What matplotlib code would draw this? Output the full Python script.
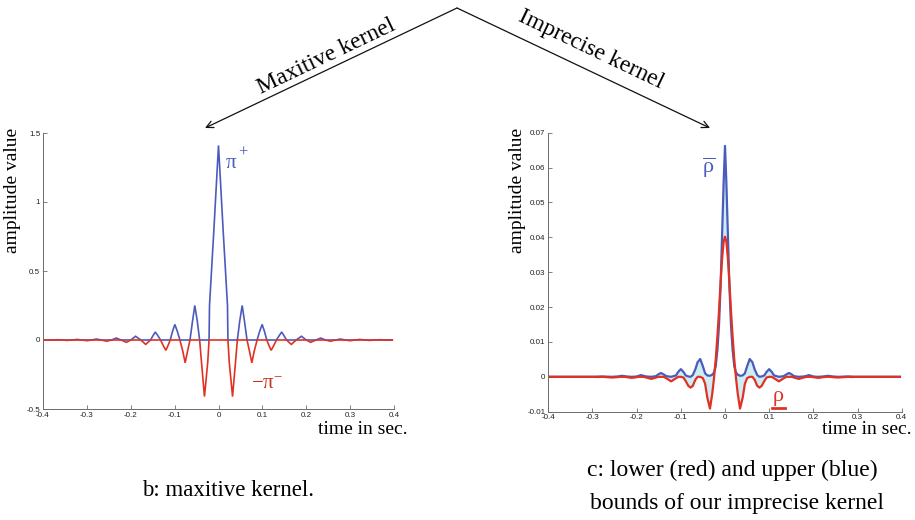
import numpy as np
import matplotlib
matplotlib.use("Agg")
import matplotlib.pyplot as plt
from matplotlib.patches import FancyArrowPatch
from matplotlib.lines import Line2D

plt.rcParams['mathtext.fontset'] = 'custom'
plt.rcParams['mathtext.rm'] = 'Liberation Serif'
plt.rcParams['mathtext.it'] = 'Liberation Serif'
plt.rcParams['mathtext.default'] = 'rm'

SERIF = 'Liberation Serif'
SANS = 'Liberation Sans'

BLUE = '#4a5bbd'
RED = '#e03222'
LABEL_RED = '#c8321e'
FILL = '#cdeef5'
AXIS = '#6b6b6b'

# ---- (b) maxitive kernel: signed kernel samples, split into pi+ / -pi- ----
t_max = [-0.396, -0.389, -0.378, -0.367, -0.356, -0.345, -0.334, -0.322, -0.311, -0.300,
         -0.289, -0.278, -0.267, -0.255, -0.244, -0.233, -0.222, -0.210, -0.200, -0.189,
         -0.177, -0.166, -0.155, -0.1495, -0.144, -0.138, -0.132, -0.126, -0.120, -0.115,
         -0.110, -0.105, -0.0995, -0.0935, -0.088, -0.0815, -0.076, -0.0705, -0.065, -0.0595,
         -0.054, -0.0485, -0.043, -0.0385, -0.032, -0.0245, -0.0215, -0.0205, -0.0105, 0.0,
         0.0105, 0.0205, 0.0215, 0.0245, 0.032, 0.0385, 0.043, 0.0485, 0.054, 0.0595,
         0.065, 0.0705, 0.076, 0.0815, 0.088, 0.0935, 0.0995, 0.105, 0.110, 0.115,
         0.120, 0.126, 0.132, 0.138, 0.144, 0.1495, 0.155, 0.166, 0.177, 0.189,
         0.200, 0.210, 0.222, 0.233, 0.244, 0.255, 0.267, 0.278, 0.289, 0.300,
         0.311, 0.322, 0.334, 0.345, 0.356, 0.367, 0.378, 0.389, 0.396]
k_max = [0.0, -0.0015, 0.0, 0.002, 0.0, -0.003, 0.0, 0.004, 0.0, -0.005,
         0.0, 0.007, 0.0, -0.009, 0.0, 0.014, 0.0, -0.017, 0.0, 0.027,
         0.0, -0.032, 0.0, 0.030, 0.058, 0.030, 0.0, -0.040, -0.075, -0.040,
         0.0, 0.060, 0.113, 0.060, 0.0, -0.080, -0.165, -0.080, 0.0, 0.130,
         0.250, 0.140, 0.0, -0.170, -0.410, -0.160, 0.0, 0.250, 0.800, 1.410,
         0.800, 0.250, 0.0, -0.160, -0.410, -0.170, 0.0, 0.140, 0.250, 0.130,
         0.0, -0.080, -0.165, -0.080, 0.0, 0.060, 0.113, 0.060, 0.0, -0.040,
         -0.075, -0.040, 0.0, 0.030, 0.058, 0.030, 0.0, -0.032, 0.0, 0.027,
         0.0, -0.017, 0.0, 0.014, 0.0, -0.009, 0.0, 0.007, 0.0, -0.005,
         0.0, 0.004, 0.0, -0.003, 0.0, 0.002, 0.0, -0.0015, 0.0]

# ---- (c) imprecise kernel: upper and lower bounds ----
t_imp = [-0.396, -0.300, -0.289, -0.278, -0.267, -0.256, -0.244, -0.238, -0.233, -0.228,
         -0.222, -0.211, -0.200, -0.195, -0.190, -0.185, -0.178, -0.167, -0.156, -0.151,
         -0.145, -0.139, -0.133, -0.122, -0.111, -0.106, -0.100, -0.094, -0.089, -0.083,
         -0.078, -0.073, -0.067, -0.062, -0.056, -0.050, -0.045, -0.040, -0.034, -0.029,
         -0.025, -0.021, -0.017, -0.0135, -0.010, -0.0065, -0.003, 0.0,
         0.003, 0.0065, 0.010, 0.0135, 0.017, 0.021, 0.025, 0.029, 0.034, 0.040,
         0.045, 0.050, 0.056, 0.062, 0.067, 0.073, 0.078, 0.083, 0.089, 0.094,
         0.100, 0.106, 0.111, 0.122, 0.133, 0.139, 0.145, 0.151, 0.156, 0.167,
         0.178, 0.185, 0.190, 0.195, 0.200, 0.211, 0.222, 0.228, 0.233, 0.238,
         0.244, 0.256, 0.267, 0.278, 0.289, 0.300, 0.396]
upper = [0.0, 0.0, 0.00005, 0.0001, 0.00005, 0.0, 0.0001, 0.0002, 0.0003, 0.0002,
         0.0001, 0.0, 0.0001, 0.0003, 0.0005, 0.0003, 0.0001, 0.0, 0.0002, 0.0007,
         0.0011, 0.0007, 0.0002, 0.0, 0.0004, 0.0014, 0.0022, 0.0014, 0.0004, 0.0001,
         0.0, 0.0005, 0.0022, 0.0042, 0.0051, 0.0030, 0.0010, 0.0004, 0.0003, 0.0006,
         0.0012, 0.0030, 0.0080, 0.0150, 0.0260, 0.0410, 0.0560, 0.0662,
         0.0560, 0.0410, 0.0260, 0.0150, 0.0080, 0.0030, 0.0012, 0.0006, 0.0003, 0.0004,
         0.0010, 0.0030, 0.0051, 0.0042, 0.0022, 0.0005, 0.0, 0.0001, 0.0004, 0.0014,
         0.0022, 0.0014, 0.0004, 0.0, 0.0002, 0.0007, 0.0011, 0.0007, 0.0002, 0.0,
         0.0001, 0.0003, 0.0005, 0.0003, 0.0001, 0.0, 0.0001, 0.0002, 0.0003, 0.0002,
         0.0001, 0.0, 0.00005, 0.0001, 0.00005, 0.0, 0.0]
lower = [0.0, 0.0, -0.00005, 0.0, -0.0001, -0.0002, -0.0001, 0.0, 0.0, 0.0,
         -0.0001, -0.0003, -0.0001, 0.0, 0.0, 0.0, -0.0002, -0.0006, -0.0002, 0.0,
         0.0, 0.0, -0.0004, -0.0013, -0.0004, 0.0, 0.0, -0.0002, -0.0012, -0.0026,
         -0.0031, -0.0026, -0.0008, 0.0, 0.0, -0.0004, -0.0020, -0.0060, -0.0091, -0.0050,
         -0.0005, 0.0050, 0.0120, 0.0190, 0.0270, 0.0340, 0.0388, 0.0402,
         0.0388, 0.0340, 0.0270, 0.0190, 0.0120, 0.0050, -0.0005, -0.0050, -0.0091, -0.0060,
         -0.0020, -0.0004, 0.0, 0.0, -0.0008, -0.0026, -0.0031, -0.0026, -0.0012, -0.0002,
         0.0, 0.0, -0.0004, -0.0013, -0.0004, 0.0, 0.0, 0.0, -0.0002, -0.0006,
         -0.0002, 0.0, 0.0, 0.0, -0.0001, -0.0003, -0.0001, 0.0, 0.0, 0.0,
         -0.0001, -0.0002, -0.0001, 0.0, -0.00005, 0.0, 0.0]

x_ticks = [-0.4, -0.3, -0.2, -0.1, 0, 0.1, 0.2, 0.3, 0.4]
x_ticklabels = ['-0.4', '-0.3', '-0.2', '-0.1', '0', '0.1', '0.2', '0.3', '0.4']
yb_ticks = [-0.5, 0, 0.5, 1, 1.5]
yb_ticklabels = ['-0.5', '0', '0.5', '1', '1.5']
yc_ticks = [-0.01, 0, 0.01, 0.02, 0.03, 0.04, 0.05, 0.06, 0.07]
yc_ticklabels = ['-0.01', '0', '0.01', '0.02', '0.03', '0.04', '0.05', '0.06', '0.07']

W, H = 915, 520
fig = plt.figure(figsize=(W / 100, H / 100), dpi=100)


def px(x, y):
    """pixel position (from the top-left corner) -> figure fraction"""
    return x / W, 1 - y / H


def style_axes(ax, yticks, ylabels):
    for s in ('top', 'right'):
        ax.spines[s].set_visible(False)
    for s in ('left', 'bottom'):
        ax.spines[s].set_color(AXIS)
        ax.spines[s].set_linewidth(0.7)
    ax.set_xlim(-0.4, 0.4)
    ax.set_xticks(x_ticks)
    ax.set_xticklabels(x_ticklabels)
    ax.set_yticks(yticks)
    ax.set_yticklabels(ylabels)
    ax.tick_params(direction='in', length=3, width=0.6, color=AXIS,
                   labelsize=5.8, pad=2, labelcolor='#222222')
    for lab in ax.get_xticklabels() + ax.get_yticklabels():
        lab.set_fontfamily(SANS)
    ax.patch.set_alpha(0)


# left panel
axb = fig.add_axes([43 / W, 1 - 409 / H, 351 / W, 276 / H])
kb = np.array(k_max)
axb.plot(t_max, np.maximum(kb, 0), color=BLUE, lw=1.2, solid_joinstyle='miter')
axb.plot(t_max, np.minimum(kb, 0), color=RED, lw=1.2, solid_joinstyle='miter')
axb.set_ylim(-0.5, 1.5)
style_axes(axb, yb_ticks, yb_ticklabels)

# right panel
axc = fig.add_axes([548.3 / W, 1 - 411.7 / H, 353.4 / W, 279 / H])
axc.fill_between(t_imp, lower, upper, color=FILL, lw=0)
axc.plot(t_imp, upper, color=BLUE, lw=1.6)
axc.plot(t_imp, lower, color=RED, lw=1.6)
axc.set_ylim(-0.01, 0.07)
style_axes(axc, yc_ticks, yc_ticklabels)

# axis titles
for x in (13, 517):
    fig.text(*px(x, 190), 'amplitude value', rotation=90, ha='center', va='center',
             fontsize=14, family=SERIF)
for x in (408, 911):
    fig.text(*px(x, 430), 'time in sec.', ha='right', va='center',
             fontsize=14, family=SERIF)

# curve labels
fig.text(*px(225, 168), r'$\mathrm{\pi}$', color=BLUE, fontsize=15,
         ha='left', va='baseline')
fig.text(*px(238, 157), '+', color=BLUE, fontsize=12, family=SERIF,
         ha='left', va='baseline')
fig.text(*px(251, 389), r'$-\mathrm{\pi}^{-}$', color=LABEL_RED, fontsize=15,
         ha='left', va='baseline')
fig.text(*px(702, 173), r'$\overline{\mathrm{\rho}}$', color=BLUE, fontsize=16,
         ha='left', va='baseline')
fig.text(*px(772, 401), r'$\mathrm{\rho}$', color=RED, fontsize=16,
         ha='left', va='baseline')
fig.add_artist(Line2D([772 / W, 785 / W], [1 - 408 / H, 1 - 408 / H],
                      color=RED, lw=2.0, transform=fig.transFigure))

# captions
fig.text(*px(228, 491), 'b: maxitive kernel.', ha='center', va='center',
         fontsize=16.5, family=SERIF)
fig.text(*px(732, 470), 'c: lower (red) and upper (blue)', ha='center', va='center',
         fontsize=17, family=SERIF)
fig.text(*px(737, 503), 'bounds of our imprecise kernel', ha='center', va='center',
         fontsize=17, family=SERIF)

# branching arrows from the top
apex = px(457, 8)
for tip in (px(205, 128), px(710, 128)):
    fig.add_artist(FancyArrowPatch(apex, tip, transform=fig.transFigure,
                                   arrowstyle='->,head_length=5,head_width=2.5',
                                   color='#111111', lw=0.9, shrinkA=0, shrinkB=0))
fig.text(*px(326, 57), 'Maxitive kernel', rotation=25.5, ha='center', va='center',
         fontsize=17, family=SERIF, rotation_mode='anchor')
fig.text(*px(591, 50), 'Imprecise kernel', rotation=-25.5, ha='center', va='center',
         fontsize=17, family=SERIF, rotation_mode='anchor')

fig.savefig('out.png', dpi=100)
